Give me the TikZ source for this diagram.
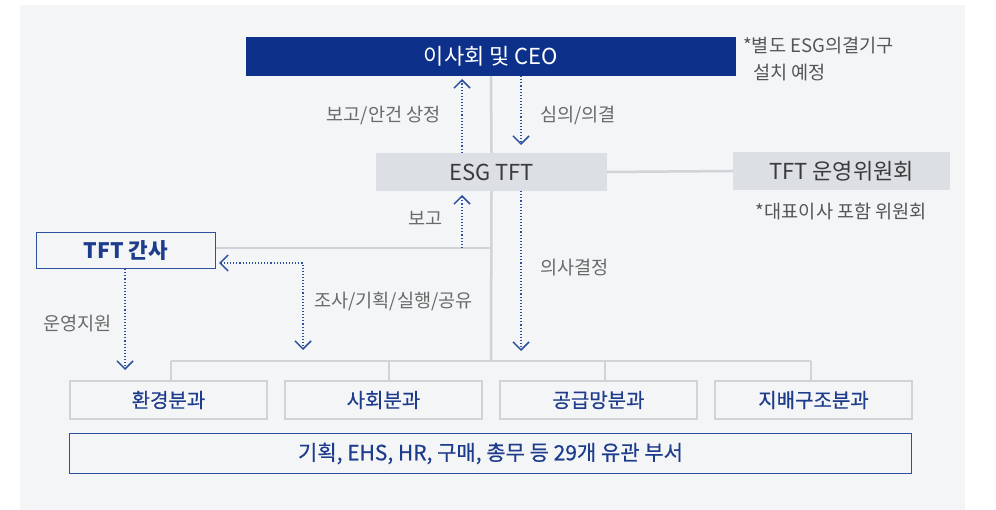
\documentclass[tikz,border=0pt]{standalone}
\usepackage{fontspec}
\setmainfont{Noto Sans CJK KR}
\newfontfamily\medfont[FakeBold=0.5]{Noto Sans CJK KR}
\usetikzlibrary{arrows.meta}
\definecolor{bg}{HTML}{F4F5F7}
\definecolor{ceoblue}{HTML}{0D318A}
\definecolor{greybox}{HTML}{DCE0E4}
\definecolor{greyline}{HTML}{CFD4D8}
\definecolor{txtblue}{HTML}{1E3C8C}
\definecolor{dotblue}{HTML}{2D4FA0}
\definecolor{labgrey}{HTML}{6A6A6A}
\definecolor{notegrey}{HTML}{555555}
\definecolor{darktxt}{HTML}{3A3A3A}
\tikzset{
  bigfont/.style={font=\fontsize{22}{26}\selectfont},
  labfont/.style={font=\fontsize{18.6}{22}\selectfont},
  ceobox/.style={fill=ceoblue, text=white, bigfont, minimum width=490pt, minimum height=39pt, inner sep=0pt},
  greyrect/.style={fill=greybox, text=darktxt, bigfont, inner sep=0pt},
  subbox/.style={draw=greyline, line width=2.5pt, fill=bg, text=txtblue, font=\fontsize{20}{24}\selectfont\medfont, minimum width=197pt, minimum height=38pt, inner sep=0pt},
  gansabox/.style={draw=dotblue, line width=1.3pt, fill=bg, text=txtblue, font=\fontsize{21.3}{25}\selectfont\bfseries, minimum width=179pt, minimum height=36pt, inner sep=0pt},
  deptbox/.style={draw=dotblue, line width=1.2pt, fill=bg, text=txtblue, font=\fontsize{21}{25}\selectfont\medfont, minimum width=842pt, minimum height=40pt, inner sep=0pt},
  conn/.style={draw=greyline, line width=2.5pt},
  dotarrow/.style={draw=dotblue, line width=1.1pt, dash pattern=on 1.1pt off 2pt, -{Straight Barb[length=8pt,width=16pt,line width=1.5pt]}},
  dotboth/.style={draw=dotblue, line width=1.1pt, dash pattern=on 1.1pt off 2pt, {Straight Barb[length=8pt,width=16pt,line width=1.5pt]}-{Straight Barb[length=8pt,width=16pt,line width=1.5pt]}},
  lab/.style={labfont, text=labgrey, inner sep=0pt},
  note/.style={labfont, text=notegrey, inner sep=0pt},
}
\begin{document}
\begin{tikzpicture}[x=1pt,y=-1pt]
\useasboundingbox (0,0) rectangle (996,510);
\fill[bg] (20,5) rectangle (965,510);

% nodes
\node[ceobox] (ceo) at (491,56.5) {이사회 및 CEO};
\node[note, anchor=west] (n1) at (743,46) {*별도 ESG의결기구};
\node[note, anchor=west] (n2) at (753,73) {설치 예정};
\node[greyrect, minimum width=231pt, minimum height=38pt] (esg) at (491.5,172) {ESG TFT};
\node[greyrect, minimum width=217pt, minimum height=38pt] (comm) at (841.5,171) {TFT 운영위원회};
\node[note] (n3) at (841.5,211) {*대표이사 포함 위원회};
\node[gansabox] (gansa) at (126,250.5) {TFT 간사};
\node[subbox] (b1) at (168.5,400) {환경분과};
\node[subbox] (b2) at (383.5,400) {사회분과};
\node[subbox] (b3) at (598.5,400) {공급망분과};
\node[subbox] (b4) at (813.5,400) {지배구조분과};
\node[deptbox] (dept) at (490.5,453.5) {기획, EHS, HR, 구매, 총무 등 29개 유관 부서};

% coordinates
\coordinate (j1) at (491,248);
\coordinate (j2) at (491,361);
\coordinate (bl) at (171,361);
\coordinate (br) at (811,361);
\coordinate (d2) at (389,361);
\coordinate (d3) at (605,361);
\coordinate (upA) at (462,79);
\coordinate (dnA) at (521,145);
\coordinate (upB) at (462,195);
\coordinate (dnB) at (521,351);
\coordinate (gL) at (219,263);
\coordinate (gC) at (303,263);
\coordinate (gD) at (303,350);
\coordinate (supp) at (125,370);

% grey connectors
\draw[conn] (ceo.south) -- (esg.north);
\draw[conn] (esg.south) -- (j2);
\draw[conn] (esg.east) -- (comm.west);
\draw[conn] (j1) -- (gansa.east |- j1);
\draw[conn] (bl) -- (br);
\draw[conn] (bl) -- (b1.north -| bl);
\draw[conn] (d2) -- (b2.north -| d2);
\draw[conn] (d3) -- (b3.north -| d3);
\draw[conn] (br) -- (b4.north -| br);

% dotted arrows
\draw[dotarrow] (esg.north -| upA) -- (upA);
\draw[dotarrow] (ceo.south -| dnA) -- (dnA);
\draw[dotarrow] (j1 -| upB) -- (upB);
\draw[dotarrow] (esg.south -| dnB) -- (dnB);
\draw[dotboth] (gL) -- (gC) -- (gD);
\draw[dotarrow] (gansa.south -| supp) -- (supp);

% labels
\node[lab, anchor=east] (l1) at (441,115) {보고/안건 상정};
\node[lab, anchor=west] (l2) at (540,115) {심의/의결};
\node[lab, anchor=east] (l3) at (443,218) {보고};
\node[lab, anchor=west] (l4) at (540,268) {의사결정};
\node[lab, anchor=west] (l5) at (314,301) {조사/기획/실행/공유};
\node[lab] (l6) at (77.5,324) {운영지원};
\end{tikzpicture}
\end{document}
